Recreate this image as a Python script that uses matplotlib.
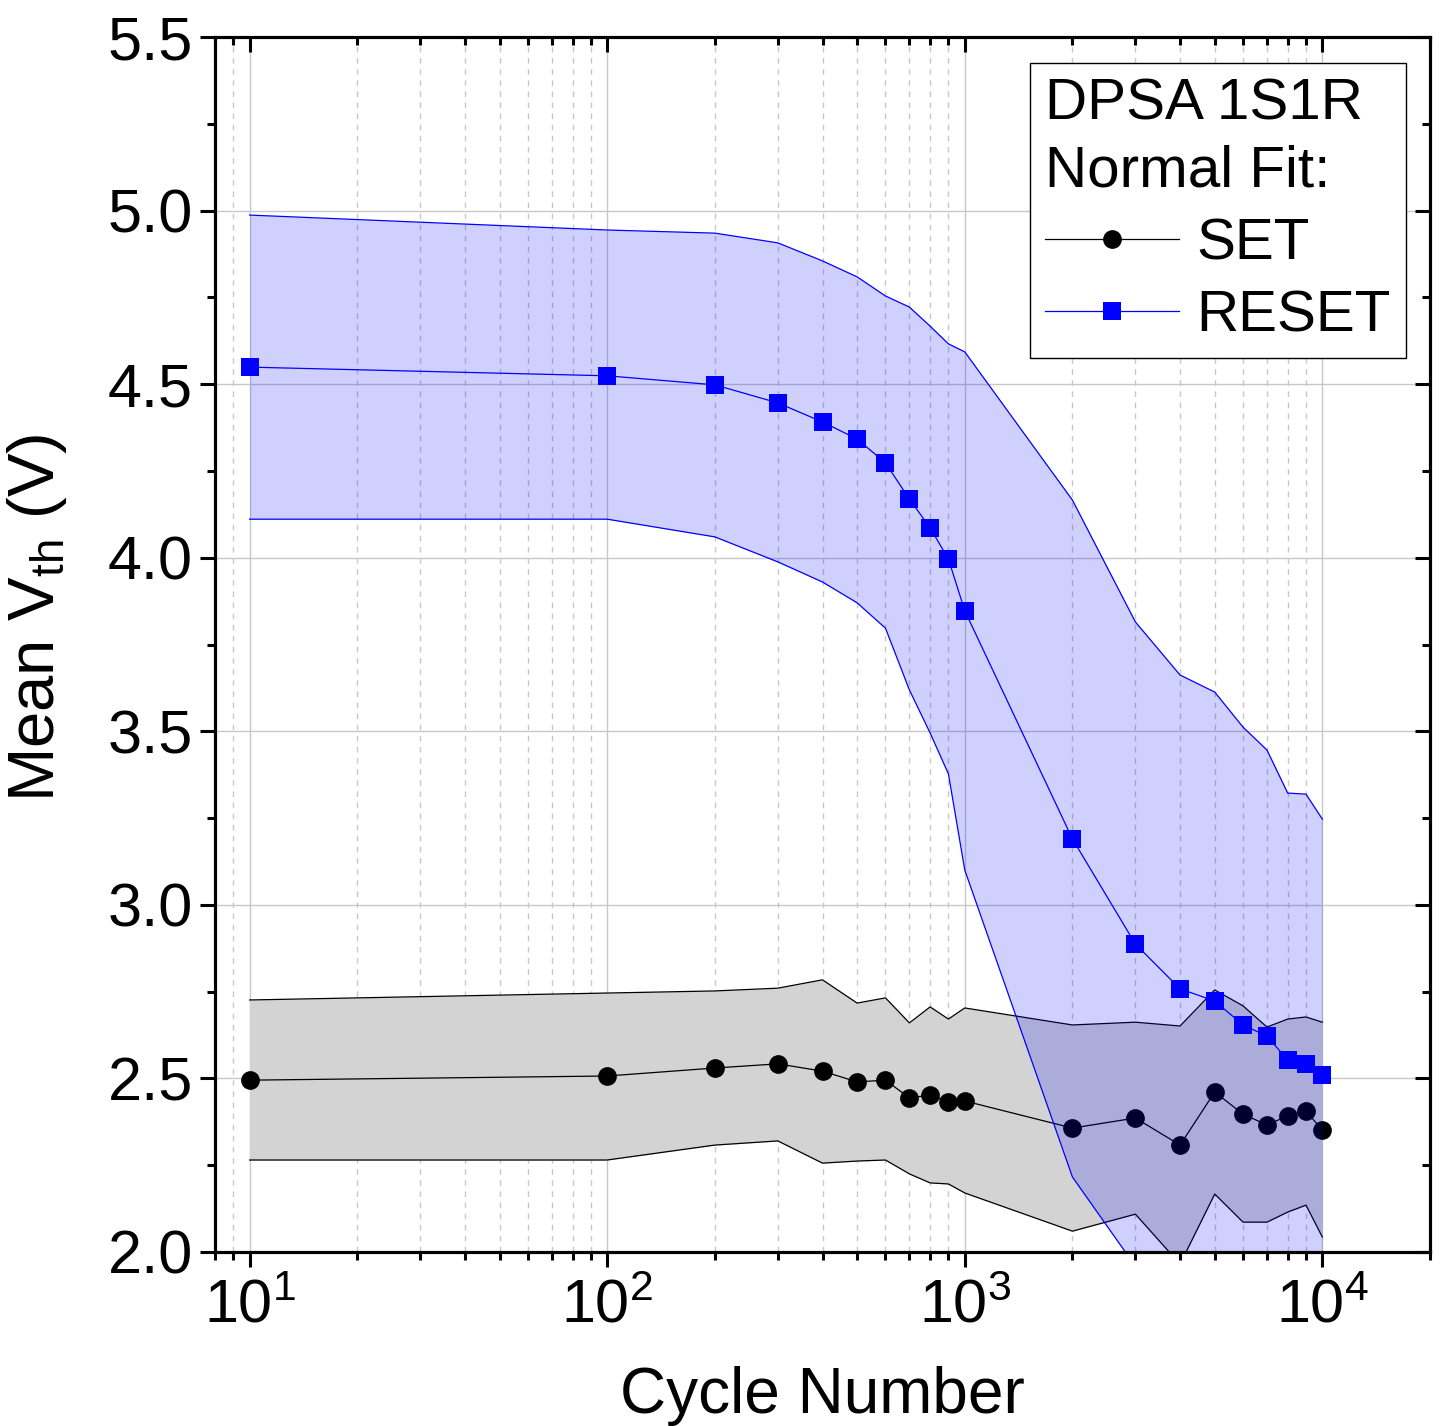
import matplotlib
matplotlib.use("Agg")
import matplotlib.pyplot as plt
from matplotlib.ticker import LogLocator, MultipleLocator, NullFormatter, FormatStrFormatter

plt.rcParams['font.family'] = ['Liberation Sans', 'DejaVu Sans']
plt.rcParams['mathtext.fontset'] = 'custom'
plt.rcParams['mathtext.rm'] = 'Liberation Sans'
plt.rcParams['mathtext.it'] = 'Liberation Sans:italic'
plt.rcParams['mathtext.bf'] = 'Liberation Sans:bold'

cycles = [10, 100, 200, 300, 400, 500, 600, 700, 800, 900, 1000,
          2000, 3000, 4000, 5000, 6000, 7000, 8000, 9000, 10000]

set_mean = [2.495, 2.507, 2.530, 2.542, 2.521, 2.490, 2.495, 2.444, 2.452, 2.432, 2.435,
            2.357, 2.386, 2.308, 2.461, 2.397, 2.366, 2.392, 2.406, 2.351]
set_upper = [2.726, 2.746, 2.752, 2.760, 2.784, 2.717, 2.732, 2.660, 2.706, 2.671, 2.703,
             2.654, 2.662, 2.651, 2.755, 2.709, 2.648, 2.671, 2.677, 2.662]
set_lower = [2.265, 2.265, 2.308, 2.320, 2.256, 2.262, 2.265, 2.225, 2.199, 2.196, 2.170,
             2.060, 2.109, 1.965, 2.167, 2.086, 2.086, 2.115, 2.135, 2.043]

reset_mean = [4.549, 4.524, 4.498, 4.446, 4.391, 4.342, 4.273, 4.169, 4.086, 3.996, 3.847,
              3.190, 2.887, 2.758, 2.723, 2.654, 2.622, 2.553, 2.542, 2.510]
reset_upper = [4.987, 4.944, 4.935, 4.907, 4.855, 4.809, 4.754, 4.722, 4.667, 4.616, 4.593,
               4.166, 3.815, 3.662, 3.613, 3.512, 3.446, 3.322, 3.319, 3.247]
reset_lower = [4.111, 4.111, 4.060, 3.988, 3.930, 3.870, 3.797, 3.619, 3.495, 3.377, 3.100,
               2.216, 1.959, 1.854, 1.833, 1.796, 1.798, 1.784, 1.765, 1.773]

fig = plt.figure(figsize=(14.4, 14.26), dpi=100)
ax = fig.add_axes([215/1440, 1 - 1252/1426, 1215/1440, 1215/1426])

ax.set_xscale('log')
ax.set_xlim(8, 20000)
ax.set_ylim(2.0, 5.5)

# grids
ax.grid(True, which='major', axis='both', color='#c8c8c8', lw=1.0, ls='-', zorder=0)
ax.grid(True, which='minor', axis='x', color='#c8c8c8', lw=1.0, ls=(0, (4, 4)), zorder=0)
ax.set_axisbelow(True)

# SET band
ax.fill_between(cycles, set_lower, set_upper, color='#d3d3d3', lw=0, zorder=1)
ax.plot(cycles, set_upper, color='black', lw=0.9, zorder=1.5)
ax.plot(cycles, set_lower, color='black', lw=0.9, zorder=1.5)
h_set, = ax.plot(cycles, set_mean, color='black', lw=0.9, marker='o', ms=13.5,
                 markeredgewidth=0, zorder=2, label='SET')

# RESET band
ax.fill_between(cycles, reset_lower, reset_upper, color='#0000ff', alpha=0.185, lw=0, zorder=3)
ax.plot(cycles, reset_upper, color='#0000ff', lw=0.9, zorder=3.5)
ax.plot(cycles, reset_lower, color='#0000ff', lw=0.9, zorder=3.5)
h_reset, = ax.plot(cycles, reset_mean, color='#0000ff', lw=0.9, marker='s', ms=12.5,
                   markeredgewidth=0, zorder=4, label='RESET')

# ticks (bottom / left outward)
ax.xaxis.set_major_locator(LogLocator(base=10, numticks=10))
ax.xaxis.set_minor_locator(LogLocator(base=10, subs=[2, 3, 4, 5, 6, 7, 8, 9], numticks=20))
ax.xaxis.set_minor_formatter(NullFormatter())
ax.yaxis.set_major_locator(MultipleLocator(0.5))
ax.yaxis.set_minor_locator(MultipleLocator(0.25))
ax.yaxis.set_major_formatter(FormatStrFormatter('%.1f'))

ax.tick_params(axis='both', which='major', labelsize=44, width=2.2, length=11, direction='out')
ax.tick_params(axis='y', which='major', pad=5)
ax.tick_params(axis='x', which='major', pad=8)
ax.tick_params(axis='both', which='minor', width=2.2, length=6, direction='out')
ax.tick_params(top=False, right=False, which='both')
for sp in ax.spines.values():
    sp.set_linewidth(2.2)

# inward ticks on top/right via twin axes
axt = ax.twiny()
axt.set_xscale('log')
axt.set_xlim(ax.get_xlim())
axt.xaxis.set_major_locator(LogLocator(base=10, numticks=10))
axt.xaxis.set_minor_locator(LogLocator(base=10, subs=[2, 3, 4, 5, 6, 7, 8, 9], numticks=20))
axt.tick_params(axis='x', which='major', direction='in', length=11, width=2.2, labeltop=False)
axt.tick_params(axis='x', which='minor', direction='in', length=6, width=2.2, labeltop=False)
axr = ax.twinx()
axr.set_ylim(ax.get_ylim())
axr.yaxis.set_major_locator(MultipleLocator(0.5))
axr.yaxis.set_minor_locator(MultipleLocator(0.25))
axr.tick_params(axis='y', which='major', direction='in', length=11, width=2.2, labelright=False)
axr.tick_params(axis='y', which='minor', direction='in', length=6, width=2.2, labelright=False)
for a in (axt, axr):
    for sp in a.spines.values():
        sp.set_linewidth(2.2)
    a.patch.set_visible(False)

ax.set_xlabel('Cycle Number', fontsize=46, labelpad=22)
ax.set_ylabel(r'Mean V$_{\mathrm{th}}$ (V)', fontsize=47)
ax.yaxis.set_label_coords(-0.120, 0.522)

leg = axr.legend([h_set, h_reset], ['SET', 'RESET'],
                 loc='upper right', bbox_to_anchor=(0.980, 0.9786), borderaxespad=0,
                 fontsize=42, title='DPSA 1S1R\nNormal Fit:', title_fontsize=42,
                 alignment='left', frameon=True, fancybox=False, edgecolor='black',
                 handlelength=2.3, handletextpad=0.3, labelspacing=0.3,
                 borderpad=0.25, framealpha=1, markerscale=1.0)
leg.get_frame().set_linewidth(1.0)
leg.get_title().set_linespacing(1.3)
leg._legend_box.sep = 14

fig.savefig('out.png', dpi=100)
